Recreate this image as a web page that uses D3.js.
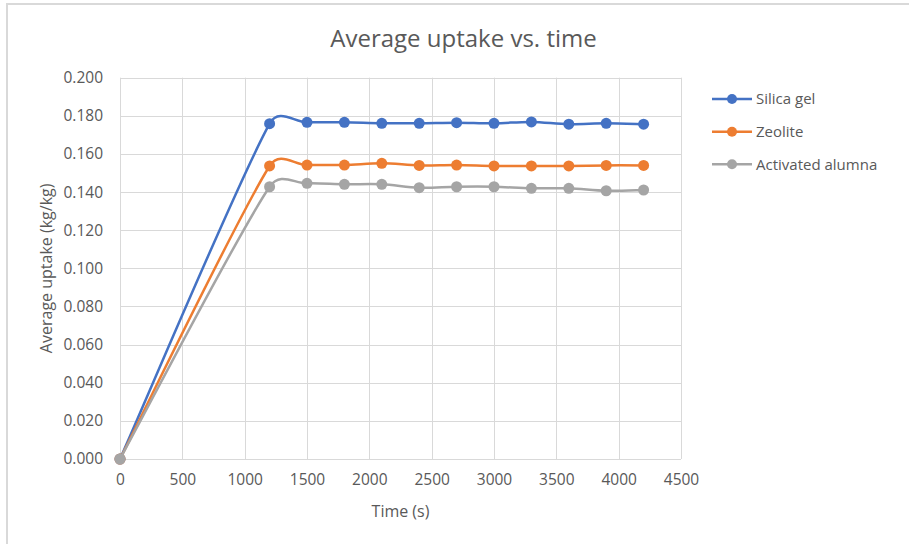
<!DOCTYPE html>
<html><head><meta charset="utf-8">
<script src="https://cdn.jsdelivr.net/npm/d3@7"></script>
<style>body{margin:0;background:#fff}svg{display:block}text{font-family:"Open Sans",sans-serif;fill:#595959}</style>
</head><body><svg id="c" width="909" height="544"></svg>
<script>
const time = [0,1200,1500,1800,2100,2400,2700,3000,3300,3600,3900,4200];
const silicaGel = [0,0.1759,0.1766,0.1766,0.1761,0.1761,0.1764,0.1761,0.1768,0.1756,0.1761,0.1756];
const zeolite = [0,0.1537,0.1542,0.1542,0.1551,0.1540,0.1542,0.1537,0.1537,0.1537,0.1540,0.1540];
const activatedAlumna = [0,0.1428,0.1446,0.1441,0.1441,0.1423,0.1428,0.1428,0.1420,0.1420,0.1407,0.1411];
const seriesNames = ["Silica gel","Zeolite","Activated alumna"];
const seriesColors = ["#4472C4","#ED7D31","#A5A5A5"];
const xTicks = [0,500,1000,1500,2000,2500,3000,3500,4000,4500];
const yTicks = [0,0.02,0.04,0.06,0.08,0.1,0.12,0.14,0.16,0.18,0.2];
const title = "Average uptake vs. time";
const xTitle = "Time (s)";
const yTitle = "Average uptake (kg/kg)";

// Excel-style smoothed curve (Bezier with clamped 1/6 tangents), used as a d3.line curve
function ExcelSmooth(ctx){this._context=ctx;}
ExcelSmooth.prototype = {
  areaStart(){}, areaEnd(){},
  lineStart(){this._pts=[];},
  point(x,y){this._pts.push([+x,+y]);},
  lineEnd(){
    const p=this._pts, c=this._context, n=p.length;
    if(!n) return;
    const dist=(a,b)=>Math.hypot(a[0]-b[0],a[1]-b[1]);
    c.moveTo(p[0][0],p[0][1]);
    for(let i=0;i<n-1;i++){
      const P0=p[i-1]||p[i], P1=p[i], P2=p[i+1], P3=p[i+2]||p[i+1];
      const d12=dist(P1,P2), d02=dist(P0,P2), d13=dist(P1,P3);
      let f1=1/6, f2=1/6;
      if(d02*f1>d12/2 && d02>0) f1=d12/2/d02;
      if(d13*f2>d12/2 && d13>0) f2=d12/2/d13;
      const c1=[P1[0]+f1*(P2[0]-P0[0]), P1[1]+f1*(P2[1]-P0[1])];
      const c2=[P2[0]-f2*(P3[0]-P1[0]), P2[1]-f2*(P3[1]-P1[1])];
      c.bezierCurveTo(c1[0],c1[1],c2[0],c2[1],P2[0],P2[1]);
    }
  }
};
const curveExcel = ctx => new ExcelSmooth(ctx);

const svg = d3.select("#c");
svg.append("rect").attr("x",7).attr("y",4).attr("width",1200).attr("height",1200)
  .attr("fill","#fff").attr("stroke","#d9d9d9").attr("stroke-width",2);

const L=120,R=681,T=77.7,B=459;
const x = d3.scaleLinear().domain([0,4500]).range([L,R]);
const y = d3.scaleLinear().domain([0,0.2]).range([B,T]);

const grid = svg.append("g").attr("stroke","#d9d9d9").attr("stroke-width",1);
yTicks.forEach(v=>grid.append("line").attr("x1",L).attr("x2",R).attr("y1",Math.round(y(v))+0.5).attr("y2",Math.round(y(v))+0.5));
xTicks.forEach(v=>grid.append("line").attr("y1",T).attr("y2",B).attr("x1",Math.round(x(v))+0.5).attr("x2",Math.round(x(v))+0.5));

const yAxis = svg.append("g").attr("transform",`translate(${L},0)`)
  .call(d3.axisLeft(y).tickValues(yTicks).tickFormat(d3.format(".3f")).tickSize(0).tickPadding(17));
const xAxis = svg.append("g").attr("transform",`translate(0,${B})`)
  .call(d3.axisBottom(x).tickValues(xTicks).tickFormat(d3.format("d")).tickSize(0).tickPadding(15));
[yAxis,xAxis].forEach(a=>{a.select(".domain").remove();a.selectAll("text").attr("font-size","15.5px").attr("font-family","Open Sans").attr("fill","#595959");});

svg.append("text").attr("x",463.5).attr("y",47).attr("text-anchor","middle").attr("font-size","24px").text(title);
svg.append("text").attr("x",(L+R)/2).attr("y",517).attr("text-anchor","middle").attr("font-size","16px").text(xTitle);
svg.append("text").attr("transform",`translate(52,${(T+B)/2}) rotate(-90)`).attr("text-anchor","middle").attr("font-size","16px").text(yTitle);

const seriesVals = [silicaGel,zeolite,activatedAlumna];
const line = d3.line().x(d=>x(d[0])).y(d=>y(d[1])).curve(curveExcel);
seriesVals.forEach((vals,i)=>{
  const pts = time.map((t,j)=>[t,vals[j]]);
  const g = svg.append("g");
  g.append("path").attr("d",line(pts)).attr("fill","none").attr("stroke",seriesColors[i]).attr("stroke-width",2.5).attr("stroke-linejoin","round");
  g.selectAll("circle").data(pts).join("circle").attr("cx",d=>x(d[0])).attr("cy",d=>y(d[1])).attr("r",5.5).attr("fill",seriesColors[i]);
});

const legY = [99,131.7,164.3];
seriesNames.forEach((n,i)=>{
  const g = svg.append("g");
  g.append("line").attr("x1",712).attr("x2",752).attr("y1",legY[i]).attr("y2",legY[i]).attr("stroke",seriesColors[i]).attr("stroke-width",2.5);
  g.append("circle").attr("cx",732).attr("cy",legY[i]).attr("r",5).attr("fill",seriesColors[i]);
  g.append("text").attr("x",756).attr("y",legY[i]).attr("dy","0.35em").attr("font-size","15px").text(n);
});
</script></body></html>
